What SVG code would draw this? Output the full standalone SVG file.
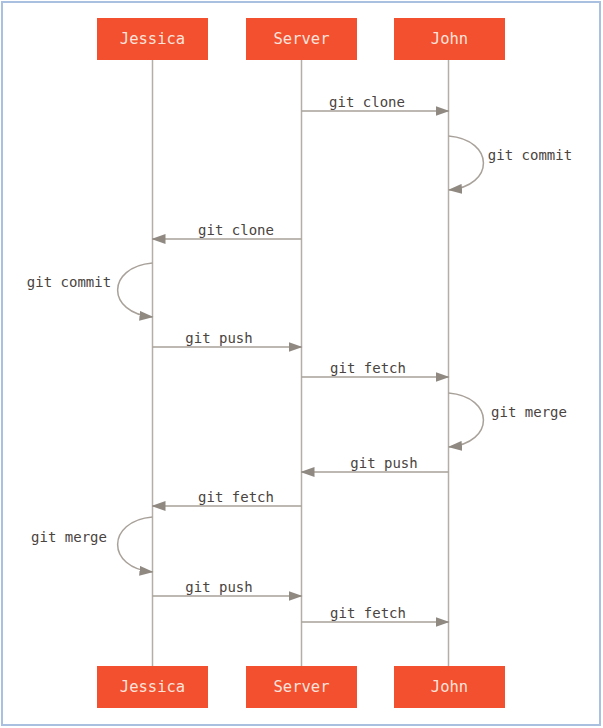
<svg xmlns="http://www.w3.org/2000/svg" width="603" height="728" viewBox="0 0 603 728">
<style>
.frame{fill:#fff;stroke:#a9c0e0;stroke-width:2}
.box{fill:#f2502e}
.bt{font-family:"DejaVu Sans Mono","Liberation Mono",monospace;font-size:15.5px;fill:#fbe3dc;text-anchor:middle}
.life{stroke:#b5aea8;stroke-width:1.5;fill:none}
.msg{stroke:#a8a199;stroke-width:1.5;fill:none}
.lt{font-family:"DejaVu Sans Mono","Liberation Mono",monospace;font-size:14px;fill:#4a4440;text-anchor:middle}
</style>
<defs>
<marker id="ah" markerWidth="14" markerHeight="10" refX="13" refY="5" orient="auto" markerUnits="userSpaceOnUse">
<path d="M0,0 L14,5 L0,10 Z" fill="#8f8982"/>
</marker>
</defs>
<rect class="frame" x="2" y="2" width="598" height="723"/>
<g id="lifelines">
<line class="life" x1="152.5" y1="60" x2="152.5" y2="666"/>
<line class="life" x1="301.5" y1="60" x2="301.5" y2="666"/>
<line class="life" x1="448.5" y1="60" x2="448.5" y2="666"/>
</g>
<g id="jessica-top"><rect class="box" x="97" y="18" width="111" height="42"/><text class="bt" x="152.5" y="44">Jessica</text></g>
<g id="server-top"><rect class="box" x="246" y="18" width="111" height="42"/><text class="bt" x="301.5" y="44">Server</text></g>
<g id="john-top"><rect class="box" x="394" y="18" width="111" height="42"/><text class="bt" x="449.5" y="44">John</text></g>
<g id="jessica-bottom"><rect class="box" x="97" y="666" width="111" height="42"/><text class="bt" x="152.5" y="692">Jessica</text></g>
<g id="server-bottom"><rect class="box" x="246" y="666" width="111" height="42"/><text class="bt" x="301.5" y="692">Server</text></g>
<g id="john-bottom"><rect class="box" x="394" y="666" width="111" height="42"/><text class="bt" x="449.5" y="692">John</text></g>
<g id="connectors">
<line class="msg" x1="301.5" y1="111" x2="448.5" y2="111" marker-end="url(#ah)"/>
<path class="msg" d="M448.5,136 C495,140 495,186 449,190" marker-end="url(#ah)"/>
<line class="msg" x1="301.5" y1="239" x2="152.5" y2="239" marker-end="url(#ah)"/>
<path class="msg" d="M152.5,263 C106,267 106,313 152.5,317" marker-end="url(#ah)"/>
<line class="msg" x1="152.5" y1="347" x2="301.5" y2="347" marker-end="url(#ah)"/>
<line class="msg" x1="301.5" y1="377" x2="448.5" y2="377" marker-end="url(#ah)"/>
<path class="msg" d="M448.5,393 C495,397 495,443 449,447" marker-end="url(#ah)"/>
<line class="msg" x1="448.5" y1="472" x2="301.5" y2="472" marker-end="url(#ah)"/>
<line class="msg" x1="301.5" y1="506" x2="152.5" y2="506" marker-end="url(#ah)"/>
<path class="msg" d="M152.5,517 C106,521 106,568 152.5,572" marker-end="url(#ah)"/>
<line class="msg" x1="152.5" y1="596" x2="301.5" y2="596" marker-end="url(#ah)"/>
<line class="msg" x1="301.5" y1="622" x2="448.5" y2="622" marker-end="url(#ah)"/>
</g>
<g id="labels">
<text class="lt" x="367" y="107">git clone</text>
<text class="lt" x="530" y="160">git commit</text>
<text class="lt" x="236" y="235">git clone</text>
<text class="lt" x="69" y="287">git commit</text>
<text class="lt" x="219" y="343">git push</text>
<text class="lt" x="368" y="373">git fetch</text>
<text class="lt" x="529" y="417">git merge</text>
<text class="lt" x="384" y="468">git push</text>
<text class="lt" x="236" y="502">git fetch</text>
<text class="lt" x="69" y="542">git merge</text>
<text class="lt" x="219" y="592">git push</text>
<text class="lt" x="368" y="618">git fetch</text>
</g>
</svg>
